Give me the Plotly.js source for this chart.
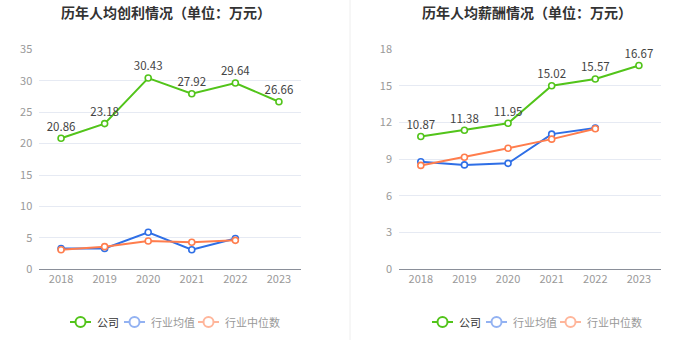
<!DOCTYPE html>
<html><head><meta charset="utf-8">
<script src="https://cdn.plot.ly/plotly-3.0.1.min.js"></script>
<style>html,body{margin:0;padding:0;background:#fff}#c{width:700px;height:360px}</style>
</head><body><div id="c"></div>
<script>
const years = ['2018','2019','2020','2021','2022','2023'];
const profitCompany = [20.86, 23.18, 30.43, 27.92, 29.64, 26.66];
const profitIndustryMean = [3.3, 3.3, 5.9, 3.1, 4.9];
const profitIndustryMedian = [3.1, 3.6, 4.5, 4.3, 4.6];
const salaryCompany = [10.87, 11.38, 11.95, 15.02, 15.57, 16.67];
const salaryIndustryMean = [8.8, 8.54, 8.67, 11.06, 11.56];
const salaryIndustryMedian = [8.5, 9.17, 9.9, 10.65, 11.5];
const profitTicks = [0,5,10,15,20,25,30,35];
const salaryTicks = [0,3,6,9,12,15,18];
const seriesNames = ['公司','行业均值','行业中位数'];
const chartTitles = ['历年人均创利情况（单位：万元）','历年人均薪酬情况（单位：万元）'];

const W=700,H=360;
const GREEN='#52c41a', BLUE='#2f6fe6', ORANGE='#ff7d4d';
const LEG_LINE=[GREEN,'#93b2f2','#ffb69b'];
const LEG_TEXT=['#333','#999','#999'];
const FONT='"Noto Sans CJK SC", "Noto Sans", sans-serif';

function line(x,y,color,xa,ya,withText){
  return {x:x,y:y,xaxis:xa,yaxis:ya,type:'scatter',
    mode: withText?'lines+markers+text':'lines+markers',
    text: withText? y.map(v=>v.toFixed(2)):undefined,
    textposition:'top center',
    textfont:{size:11.5,color:'#444',family:FONT},
    line:{color:color,width:2},
    marker:{symbol:'circle',size:6,color:'#fff',line:{color:color,width:1.6}},
    showlegend:false,hoverinfo:'skip',cliponaxis:false};
}
const traces=[
  line(years,profitCompany,GREEN,'x','y',true),
  line(years.slice(0,5),profitIndustryMean,BLUE,'x','y',false),
  line(years.slice(0,5),profitIndustryMedian,ORANGE,'x','y',false),
  line(years,salaryCompany,GREEN,'x2','y2',true),
  line(years.slice(0,5),salaryIndustryMean,BLUE,'x2','y2',false),
  line(years.slice(0,5),salaryIndustryMedian,ORANGE,'x2','y2',false)
];
const xax = (dom)=>({domain:dom,type:'category',range:[-0.5,5.5],showgrid:false,zeroline:false,
  showline:true,linecolor:'#8a8f99',linewidth:1,ticks:'',tickfont:{size:11,color:'#999',family:FONT},fixedrange:true});
const yax = (rng,tv,anchor)=>({domain:[0.252,0.863],range:rng,tickvals:tv,anchor:anchor,showgrid:true,gridcolor:'#e6eaf3',
  zeroline:false,showline:false,ticks:'',tickfont:{size:11,color:'#999',family:FONT},ticklabelstandoff:6,fixedrange:true});

const px=(v)=>v/W, py=(v)=>1-v/H;
const annotations=[
  {text:'<b>'+chartTitles[0]+'</b>',x:px(166),y:py(12),xref:'paper',yref:'paper',xanchor:'center',yanchor:'middle',showarrow:false,font:{size:14,color:'#333',family:FONT}},
  {text:'<b>'+chartTitles[1]+'</b>',x:px(527),y:py(12),xref:'paper',yref:'paper',xanchor:'center',yanchor:'middle',showarrow:false,font:{size:14,color:'#333',family:FONT}}
];
const shapes=[{type:'line',xref:'paper',yref:'paper',x0:0.5,x1:0.5,y0:py(340),y1:1,line:{color:'#eeeeee',width:1}}];
// manual legends (icon start x for each item)
const legendStarts=[[70,124,198],[432,486,560]];
const legY=322;
legendStarts.forEach(starts=>{
  starts.forEach((s,i)=>{
    const c=LEG_LINE[i];
    shapes.push({type:'line',xref:'paper',yref:'paper',x0:px(s),x1:px(s+21),y0:py(legY),y1:py(legY),line:{color:c,width:2}});
    shapes.push({type:'circle',xref:'paper',yref:'paper',x0:px(s+5.5),x1:px(s+15.5),y0:py(legY+5),y1:py(legY-5),fillcolor:'#fff',line:{color:c,width:2}});
    annotations.push({text:seriesNames[i],x:px(s+25),y:py(legY),xref:'paper',yref:'paper',xanchor:'left',yanchor:'middle',showarrow:false,font:{size:11,color:LEG_TEXT[i],family:FONT}});
  });
});
const layout={
  width:W,height:H,margin:{l:0,r:0,t:0,b:0},paper_bgcolor:'#fff',plot_bgcolor:'#fff',
  font:{family:FONT},showlegend:false,
  xaxis:xax([0.0561,0.4296]),
  yaxis:yax([0,35],profitTicks,'x'),
  xaxis2:Object.assign(xax([0.57,0.9439]),{anchor:'y2'}),
  yaxis2:yax([0,18],salaryTicks,'x2'),
  annotations:annotations,shapes:shapes
};
Plotly.newPlot('c',traces,layout,{displayModeBar:false,staticPlot:true});
</script></body></html>
